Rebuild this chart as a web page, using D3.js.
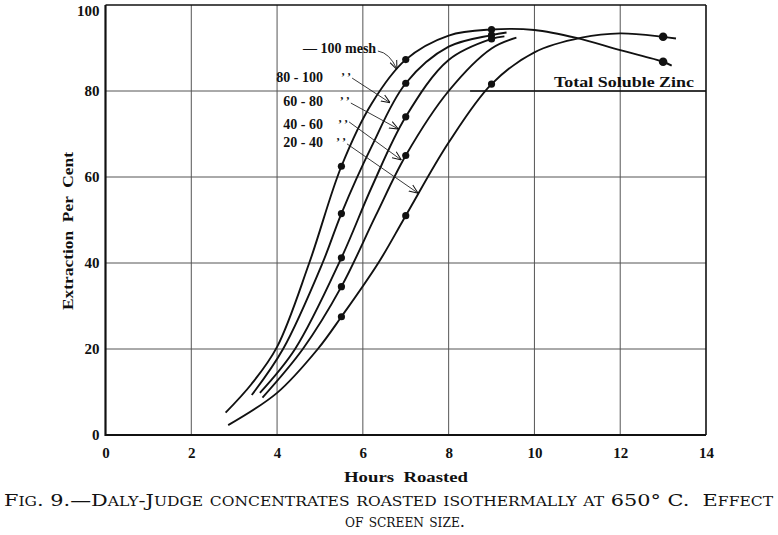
<!DOCTYPE html>
<html><head><meta charset="utf-8">
<script src="https://cdn.jsdelivr.net/npm/d3@7"></script>
<style>
html,body{margin:0;padding:0;background:#fff;}
svg{display:block;}
text{font-family:"Liberation Serif","Times New Roman",serif;fill:#111;white-space:pre;}
text.caption{font-family:"DejaVu Serif",serif;}
</style></head>
<body>
<svg id="chart" width="778" height="535"></svg>
<script>
// ---- data (hours roasted, extraction per cent) ----
const xTicks = [0, 2, 4, 6, 8, 10, 12, 14];
const yTicks = [0, 20, 40, 60, 80, 100];
const seriesNames = ["\u2014 100 mesh", "80 - 100", "60 - 80", "40 - 60", "20 - 40"];

const curveMinus100 = [[2.8,5.2],[3.4,11.8],[4,20.5],[4.75,40],[5.5,62.5],[6.2,77],[7,87.3],[8,92.9],[9,94.3],[10,94.2],[11,92.3],[12,89.5],[13,86.8],[13.2,85.9]];
const curve80to100 = [[3.41,9.3],[4.14,20],[5.06,40],[5.5,51.5],[6.2,67],[7,81.8],[8,90.3],[9,93.0],[9.35,93.6]];
const curve60to80  = [[3.6,9.8],[4.42,20],[5.5,41.2],[6.2,57.5],[7,74],[8,87.2],[9,92.1],[9.3,92.7]];
const curve40to60  = [[3.66,8.7],[4.6,20],[5.5,34.5],[6.3,51],[7,65],[8,80],[9,89.9],[9.58,92.4]];
const curve20to40  = [[2.86,2.3],[4,9.8],[4.95,20],[5.5,27.5],[6.36,40],[7,51],[8,68],[9,81.6],[10,89],[11.1,92.4],[12,93.4],[13,92.6],[13.3,92.2]];

const dotsMinus100 = [[5.5,62.5],[7,87.3],[9,94.3],[13,86.8]];
const dots80to100  = [[5.5,51.5],[7,81.8],[9,93.0]];
const dots60to80   = [[5.5,41.2],[7,74],[9,92.1]];
const dots40to60   = [[5.5,34.5],[7,65]];
const dots20to40   = [[5.5,27.5],[7,51],[9,81.6],[13,92.6]];

// label anchor points and arrow (from -> to), in data units
const labelPoints = [[6.31,88.8],[5.07,82.1],[5.07,76.5],[5.07,71.2],[5.07,67.0]];
const arrowFrom = [[6.35,89.3],[5.75,83.0],[5.72,77.2],[5.68,72.8],[5.63,67.7]];
const arrowTo   = [[6.79,85.1],[6.63,77.3],[6.82,71.2],[6.89,64.0],[7.28,56.3]];
const zincLabel = "Total Soluble Zinc";
const zincLine = [[8.5,80],[14,80]];

const xTitle = "Hours  Roasted";
const yTitle = "Extraction  Per  Cent";
const caption1 = "Fig. 9.\u2014Daly-Judge concentrates roasted isothermally at 650\u00B0 C.  Effect";
const caption2 = "of screen size.";

// ---- drawing ----
const svg = d3.select("#chart");
const x = d3.scaleLinear().domain([0,14]).range([105.5,706]);
const y = d3.scaleLinear().domain([0,100]).range([435,5]);

// grid
const g = svg.append("g");
g.selectAll(".vg").data(xTicks.slice(1,-1)).join("line")
  .attr("x1",d=>x(d)).attr("x2",d=>x(d)).attr("y1",y(0)).attr("y2",y(100))
  .attr("stroke","#555").attr("stroke-width",1);
g.selectAll(".hg").data(yTicks.slice(1,-1)).join("line")
  .attr("x1",x(0)).attr("x2",x(14)).attr("y1",d=>y(d)).attr("y2",d=>y(d))
  .attr("stroke","#555").attr("stroke-width",1);
// total soluble zinc emphasized line
g.append("line").attr("x1",x(zincLine[0][0])).attr("x2",x(zincLine[1][0]))
  .attr("y1",y(zincLine[0][1])).attr("y2",y(zincLine[1][1]))
  .attr("stroke","#111").attr("stroke-width",1.5);

// frame
g.append("line").attr("x1",x(0)).attr("x2",x(14)).attr("y1",y(100)).attr("y2",y(100)).attr("stroke","#111").attr("stroke-width",1.6);
g.append("line").attr("x1",x(14)).attr("x2",x(14)).attr("y1",y(0)).attr("y2",y(100)).attr("stroke","#111").attr("stroke-width",1.6);
g.append("line").attr("x1",x(0)).attr("x2",x(0)).attr("y1",y(0)+1).attr("y2",y(100)).attr("stroke","#111").attr("stroke-width",2.2);
g.append("line").attr("x1",x(0)).attr("x2",x(14)).attr("y1",y(0)).attr("y2",y(0)).attr("stroke","#111").attr("stroke-width",2.2);

// axes tick labels via d3 axes
const xAxis = svg.append("g").attr("transform",`translate(0,${y(0)})`)
  .call(d3.axisBottom(x).tickValues(xTicks).tickSize(0).tickPadding(12).tickFormat(d3.format("d")));
xAxis.select(".domain").remove();
xAxis.selectAll("text").attr("font-size",15).attr("font-weight","bold").attr("fill","#111");
const yAxis = svg.append("g").attr("transform",`translate(${x(0)},0)`)
  .call(d3.axisLeft(y).tickValues(yTicks).tickSize(0).tickPadding(6).tickFormat(d3.format("d")));
yAxis.select(".domain").remove();
yAxis.selectAll("text").attr("font-size",15).attr("font-weight","bold").attr("fill","#111")
  .attr("dy",d=>d===100 ? "0.72em" : "0.32em");

// curves
const line = d3.line().x(d=>x(d[0])).y(d=>y(d[1])).curve(d3.curveCatmullRom.alpha(0.5));
const curves = [curveMinus100, curve80to100, curve60to80, curve40to60, curve20to40];
svg.append("g").selectAll("path").data(curves).join("path")
  .attr("d",line).attr("fill","none").attr("stroke","#111").attr("stroke-width",1.9);

// dots
const dotSets = [dotsMinus100, dots80to100, dots60to80, dots40to60, dots20to40];
svg.append("g").selectAll("circle").data(dotSets.flat()).join("circle")
  .attr("cx",d=>x(d[0])).attr("cy",d=>y(d[1]))
  .attr("r",d=>d[0]===13 ? 4.3 : 3.6).attr("fill","#111");

// arrows
svg.append("defs").append("marker").attr("id","ah")
  .attr("viewBox","0 0 10 10").attr("refX",9.5).attr("refY",5)
  .attr("markerWidth",9).attr("markerHeight",9).attr("markerUnits","userSpaceOnUse")
  .attr("orient","auto")
  .append("path").attr("d","M0,1 L10,5 L0,9").attr("fill","none").attr("stroke","#111").attr("stroke-width",1.1);
svg.append("g").selectAll("path").data(arrowFrom.map((f,i)=>[f,arrowTo[i]])).join("path")
  .attr("d",(d,i)=>{
    const x1=x(d[0][0]), y1=y(d[0][1]), x2=x(d[1][0]), y2=y(d[1][1]);
    if(i===0){ return `M${x1},${y1} Q${x1+12},${y1+2} ${x2},${y2}`; }
    return `M${x1},${y1} L${x2},${y2}`;
  })
  .attr("fill","none").attr("stroke","#222").attr("stroke-width",0.9).attr("marker-end","url(#ah)");

// series labels
const lab = svg.append("g").attr("font-size",14).attr("font-weight","bold");
lab.selectAll("text").data(seriesNames).join("text")
  .attr("x",(d,i)=>x(labelPoints[i][0])).attr("y",(d,i)=>y(labelPoints[i][1]))
  .attr("text-anchor","end").text(d=>d);
lab.selectAll(".ditto").data(seriesNames.slice(1)).join("text").attr("class","ditto")
  .attr("x",(d,i)=>x(arrowFrom[i+1][0])-1).attr("y",(d,i)=>y(labelPoints[i+1][1])-1)
  .attr("text-anchor","end").attr("font-size",12).text("\u2019 \u2019");

svg.append("text").attr("x",x(14)-12).attr("y",y(80)-4).attr("text-anchor","end")
  .attr("font-size",15).attr("font-weight","bold").attr("textLength",140).attr("lengthAdjust","spacingAndGlyphs")
  .text(zincLabel);

// titles
svg.append("text").attr("x",406).attr("y",482).attr("text-anchor","middle")
  .attr("font-size",15).attr("font-weight","bold").attr("textLength",124).attr("lengthAdjust","spacingAndGlyphs").text(xTitle);
svg.append("text").attr("transform","translate(73,231) rotate(-90)").attr("text-anchor","middle")
  .attr("font-size",15).attr("font-weight","bold").attr("textLength",158).attr("lengthAdjust","spacingAndGlyphs").text(yTitle);

// caption with small caps
function smallCaps(sel, str, big, small){
  const runs=[];
  for(const ch of str){
    const isLower = ch !== ch.toUpperCase();
    const sz = isLower ? small : big;
    const c = isLower ? ch.toUpperCase() : ch;
    if(runs.length && runs[runs.length-1].sz===sz) runs[runs.length-1].t+=c;
    else runs.push({sz, t:c});
  }
  sel.selectAll("tspan").data(runs).join("tspan").attr("font-size",d=>d.sz).text(d=>d.t);
}
const c1 = svg.append("text").attr("class","caption").attr("x",4).attr("y",506)
  .attr("textLength",769).attr("lengthAdjust","spacingAndGlyphs");
smallCaps(c1, caption1, 16.5, 12.3);
const c2 = svg.append("text").attr("class","caption").attr("x",405).attr("y",527).attr("text-anchor","middle")
  .attr("textLength",120).attr("lengthAdjust","spacingAndGlyphs");
smallCaps(c2, caption2, 16.5, 12.3);
</script>
</body></html>
